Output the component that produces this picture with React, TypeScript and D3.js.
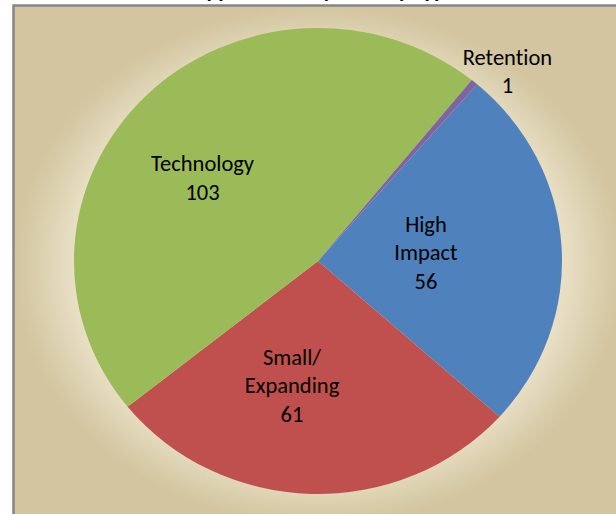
import React from "react";
import * as d3 from "d3";

const categories = ["High Impact", "Small/Expanding", "Technology", "Retention"];
const values = [56, 61, 103, 1];
const labelLines = [["High", "Impact"], ["Small/", "Expanding"], ["Technology"], ["Retention"]];
const colors = ["#4f81bd", "#c0504d", "#9bbb59", "#8064a2"];
const title = "Applications by Subsidy Type";

// layout (angle nudge in degrees, radius fraction) for label placement
const labelLayout = [
  { da: -1.1, r: 0.444 },
  { da: 9.7, r: 0.544 },
  { da: -8.1, r: 0.593 },
  { da: 3.7, r: 1.126 },
];

const W = 616;
const H = 514;
const cx = 318;
const cy = 261;
const rx = 244;
const ry = 233;
const startDeg = 40.7;
const fontFamily = "Carlito, Calibri, Lato, sans-serif";
const lineH = 28.5;

export default function App() {
  const pie = d3
    .pie<number>()
    .sort(null)
    .value((d) => d)
    .startAngle((startDeg * Math.PI) / 180)
    .endAngle((startDeg * Math.PI) / 180 + 2 * Math.PI);
  const arcs = pie(values);
  const arc = d3.arc<d3.PieArcDatum<number>>().innerRadius(0).outerRadius(ry);
  const sx = rx / ry;

  return (
    <svg
      width={W}
      height={H}
      style={{ position: "absolute", left: 0, top: 0, display: "block", fontVariantLigatures: "none" }}
    >
      <defs>
        <radialGradient id="bg" cx="0.5" cy="0.5" r="0.5">
          <stop offset="0" stopColor="#f4eedc" />
          <stop offset="0.68" stopColor="#f1ead5" />
          <stop offset="0.82" stopColor="#e7ddc2" />
          <stop offset="0.95" stopColor="#d7cba8" />
          <stop offset="1" stopColor="#d3c59f" />
        </radialGradient>
      </defs>
      <rect width={W} height={H} fill="#ffffff" />
      <text
        x={325}
        y={-3}
        textAnchor="middle"
        fontFamily={fontFamily}
        fontWeight="bold"
        fontSize={22}
        fill="#000"
      >
        {title}
      </text>
      <rect
        x={13.5}
        y={5.5}
        width={610}
        height={520}
        fill="url(#bg)"
        stroke="#878787"
        strokeWidth={2.5}
      />
      <g transform={`translate(${cx},${cy}) scale(${sx},1)`}>
        {arcs.map((a, i) => (
          <path key={categories[i]} d={arc(a) || ""} fill={colors[i]} />
        ))}
      </g>
      {arcs.map((a, i) => {
        const mid = (a.startAngle + a.endAngle) / 2 + (labelLayout[i].da * Math.PI) / 180;
        const r = labelLayout[i].r;
        const x = cx + rx * r * Math.sin(mid);
        const y = cy - ry * r * Math.cos(mid);
        const lines = [...labelLines[i], String(values[i])];
        const first = y - ((lines.length - 1) * lineH) / 2 + 8;
        return (
          <text
            key={"l" + i}
            textAnchor="middle"
            fontFamily={fontFamily}
            fontSize={22.5}
            fill="#000"
            style={{ fontVariantLigatures: "none" }}
          >
            {lines.map((t, j) => (
              <tspan key={j} x={x} y={first + j * lineH}>
                {t}
              </tspan>
            ))}
          </text>
        );
      })}
    </svg>
  );
}
